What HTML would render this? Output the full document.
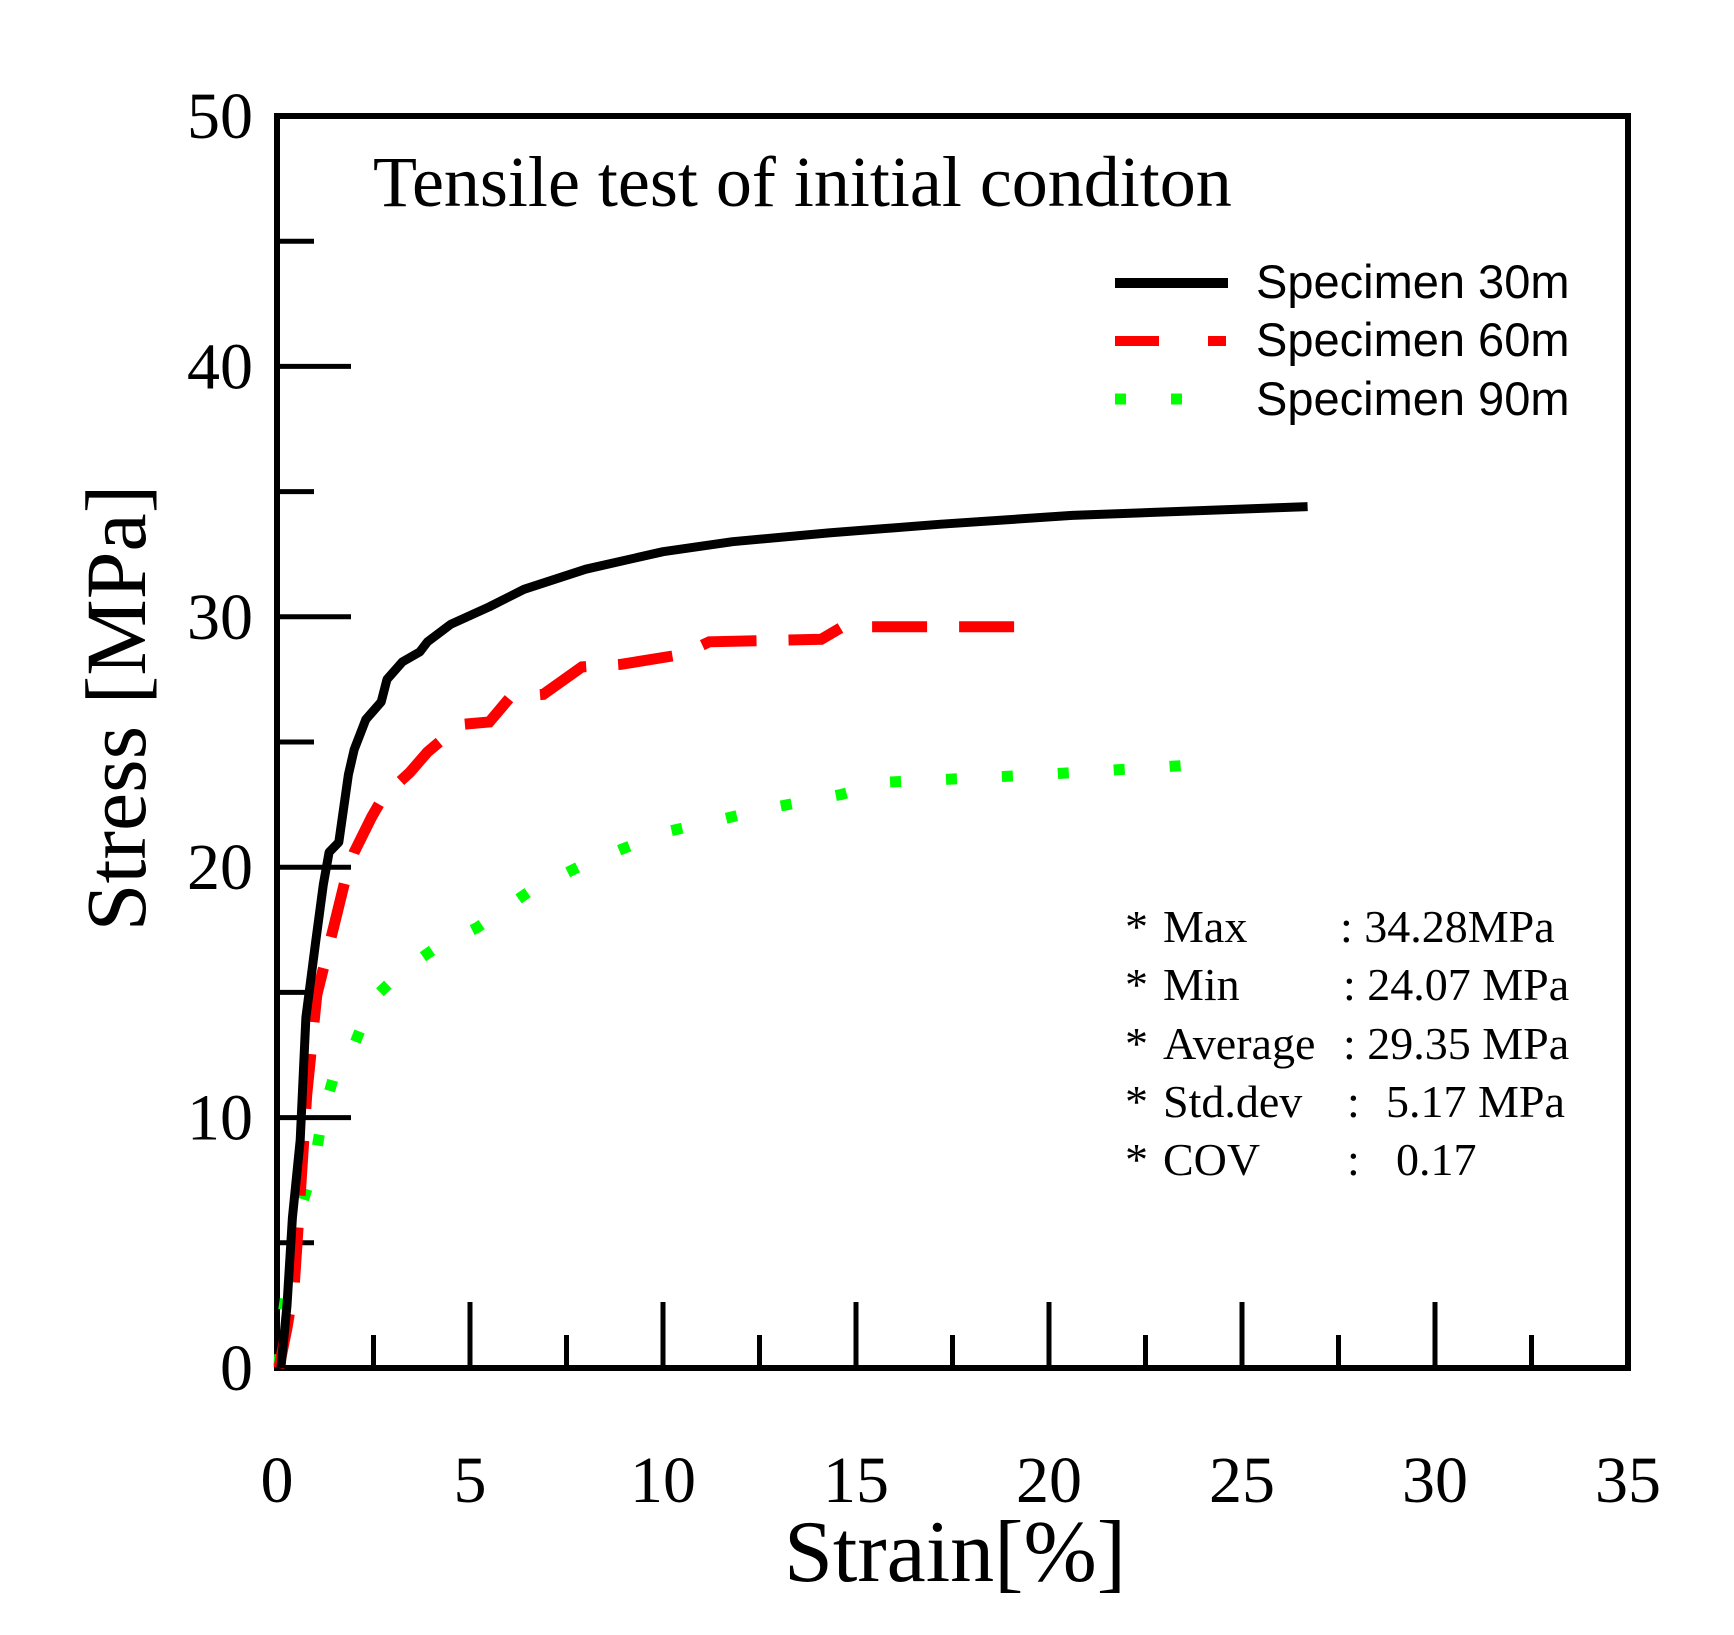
<!DOCTYPE html>
<html><head><meta charset="utf-8"><style>
html,body{margin:0;padding:0;background:#fff;}
svg{display:block;}
.tm{font-family:"Liberation Serif",serif;fill:#000;}
.ar{font-family:"Liberation Sans",sans-serif;fill:#000;}
</style></head><body>
<svg id="chart" width="1734" height="1635" viewBox="0 0 1734 1635">
<g id="axes"></g>
<g id="series"></g>
<text class="tm" x="373" y="206" font-size="72">Tensile test of initial conditon</text>
<g>
<line x1="1115" y1="283" x2="1228" y2="283" stroke="#000" stroke-width="10"/>
<text class="ar" x="1256" y="298" font-size="47">Specimen 30m</text>
<line x1="1115" y1="341" x2="1226" y2="341" stroke="#f00" stroke-width="10" stroke-dasharray="44,49"/>
<text class="ar" x="1256" y="356" font-size="47">Specimen 60m</text>
<line x1="1115" y1="399" x2="1183" y2="399" stroke="#0f0" stroke-width="11" stroke-dasharray="11,45"/>
<text class="ar" x="1256" y="415" font-size="47">Specimen 90m</text>
</g>
<g class="tm" font-size="46">
<text x="1125" y="942">*</text><text x="1163" y="942">Max</text><text x="1340" y="942">: 34.28MPa</text>
<text x="1125" y="1000">*</text><text x="1163" y="1000">Min</text><text x="1343" y="1000">: 24.07 MPa</text>
<text x="1125" y="1059">*</text><text x="1163" y="1059">Average</text><text x="1343" y="1059">: 29.35 MPa</text>
<text x="1125" y="1117">*</text><text x="1163" y="1117">Std.dev</text><text x="1347" y="1117">:</text><text x="1386" y="1117">5.17 MPa</text>
<text x="1125" y="1175">*</text><text x="1163" y="1175">COV</text><text x="1347" y="1175">:</text><text x="1396" y="1175">0.17</text>
</g>
<text class="tm" x="955" y="1581" font-size="88" text-anchor="middle">Strain[%]</text>
<text class="tm" transform="translate(145,708) rotate(-90)" font-size="86" text-anchor="middle">Stress [MPa]</text>
</svg>
<script>
const xTicks=[0,5,10,15,20,25,30,35];
const yTicks=[0,10,20,30,40,50];
const s30x=[0.1,0.26,0.4,0.6,0.75,1,1.2,1.35,1.6,1.85,2.0,2.3,2.7,2.85,3.25,3.7,3.9,4.5,5.5,6.4,8,10,11.8,14.3,17.2,20.6,26.7];
const s30y=[0,2.5,6,9.1,14,17,19.3,20.6,21,23.7,24.7,25.9,26.6,27.5,28.2,28.6,29,29.7,30.4,31.1,31.9,32.6,33,33.35,33.7,34.05,34.4];
const s60x=[0.05,0.26,0.45,0.6,0.77,1.03,1.45,1.8,2.0,2.45,2.75,3.45,3.9,4.75,5.5,6.05,6.9,7.9,8.9,10.5,11.2,14.1,14.65,19.8];
const s60y=[0,1.6,3.4,6.9,10.9,14.9,17.5,19.7,20.6,22,22.8,23.8,24.6,25.7,25.8,26.8,26.9,28,28.1,28.5,29,29.1,29.6,29.6];
const s90x=[0.05,0.17,0.37,0.6,0.95,1.17,1.46,2.0,2.46,3.2,4.04,5.2,6.6,7.8,8.9,10.05,11.2,12.9,14.6,15.8,17.2,19.8,23.9];
const s90y=[0.1,2.3,4.3,6.3,8.0,10,11.6,12.9,14.7,15.8,16.7,17.6,19.1,20,20.7,21.4,21.8,22.4,22.9,23.4,23.5,23.7,24.1];
const X0=277,X1=1628,Y0=1368,Y1=116;
const sx=v=>X0+(v-0)/(35-0)*(X1-X0);
const sy=v=>Y0-(v-0)/(50-0)*(Y0-Y1);
const NS='http://www.w3.org/2000/svg';
function mk(tag,attrs,parent){const e=document.createElementNS(NS,tag);for(const k in attrs)e.setAttribute(k,attrs[k]);parent.appendChild(e);return e;}
const axes=document.getElementById('axes');
const frame=mk('rect',{x:X0,y:Y1,width:X1-X0,height:Y0-Y1,fill:'none',stroke:'#000','stroke-width':6},axes);


for(let v=0;v<=35;v+=2.5){
  if(v===0||v===35)continue;
  const major=v%5===0;
  const t=mk('line',{x1:sx(v),x2:sx(v),y1:Y0,y2:Y0-(major?66:33),stroke:'#000','stroke-width':5},axes);
  
  
}
for(let v=5;v<50;v+=5){
  const major=v%10===0;
  const t=mk('line',{x1:X0,x2:X0+(major?74:37),y1:sy(v),y2:sy(v),stroke:'#000','stroke-width':5},axes);
  
  
}
xTicks.forEach(v=>{
  const t=mk('text',{x:sx(v),y:1502,'font-size':66,'text-anchor':'middle',class:'tm'},axes);
  t.textContent=v;
  
  
});
yTicks.forEach(v=>{
  const t=mk('text',{x:253,y:sy(v)+22,'font-size':66,'text-anchor':'end',class:'tm'},axes);
  t.textContent=v;
  
  
});
const series=document.getElementById('series');
function pts(xs,ys){return xs.map((x,i)=>sx(x).toFixed(1)+','+sy(ys[i]).toFixed(1)).join(' ');}
const p90=mk('polyline',{points:pts(s90x,s90y),fill:'none',stroke:'#0f0','stroke-width':11,'stroke-dasharray':'11,45'},series);


const p60=mk('polyline',{points:pts(s60x,s60y),fill:'none',stroke:'#f00','stroke-width':11,'stroke-dasharray':'55,32'},series);


const p30=mk('polyline',{points:pts(s30x,s30y),fill:'none',stroke:'#000','stroke-width':9,'stroke-linejoin':'round'},series);


</script>
</body></html>
